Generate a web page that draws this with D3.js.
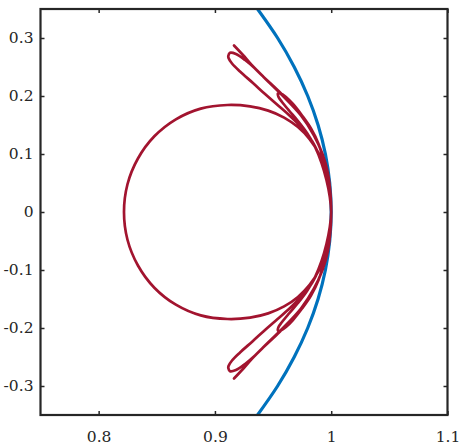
<!DOCTYPE html>
<html><head><meta charset="utf-8">
<script src="https://cdn.jsdelivr.net/npm/d3@7"></script>
<style>html,body{margin:0;padding:0;background:#fff;} svg{display:block;}</style>
</head><body>
<svg id="c" width="463" height="445"></svg>
<script>
// ---- tick data ----
const xTickValues = [0.8, 0.9, 1, 1.1];
const xTickLabels = ["0.8", "0.9", "1", "1.1"];
const yTickValues = [-0.3, -0.2, -0.1, 0, 0.1, 0.2, 0.3];
const yTickLabels = ["-0.3", "-0.2", "-0.1", "0", "0.1", "0.2", "0.3"];

// ---- blue boundary arc ----
const boundaryX = [0.9330,0.9539,0.9682,0.9798,0.9887,0.9950,0.9987,1.0000,0.9987,0.9950,0.9887,0.9798,0.9682,0.9539,0.9330];
const boundaryY = [0.36,0.30,0.25,0.20,0.15,0.10,0.05,0,-0.05,-0.10,-0.15,-0.20,-0.25,-0.30,-0.36];

// ---- red orbit, upper half pieces (lower half is the mirror image) ----
const contactX = 1.0, contactY = 0.0;
const endStrandX = [0.9164,0.9241,0.9316,0.9416,0.9560,0.9732,0.9846,0.9921,0.9968,0.9992];
const endStrandY = [0.2871,0.2707,0.2534,0.2333,0.2060,0.1690,0.1345,0.1017,0.0690,0.0345];
const bigUpperX = [0.9115,0.9130,0.9181,0.9259,0.9345,0.9431,0.9568,0.9740,0.9852,0.9925,0.9971,0.9993];
const bigUpperY = [0.2690,0.2745,0.2724,0.2621,0.2474,0.2302,0.2034,0.1664,0.1319,0.1000,0.0672,0.0328];
const bigLowerX = [0.9117,0.9147,0.9216,0.9327,0.9431,0.9534,0.9646,0.9749,0.9835,0.9899,0.9947,0.9978,0.9995];
const bigLowerY = [0.2655,0.2560,0.2422,0.2224,0.2034,0.1853,0.1655,0.1448,0.1224,0.0966,0.0690,0.0414,0.0155];
const smallUpperX = [0.9542,0.9568,0.9611,0.9671,0.9749,0.9826,0.9891,0.9938,0.9975,0.9995];
const smallUpperY = [0.2043,0.2041,0.1983,0.1862,0.1664,0.1440,0.1172,0.0862,0.0517,0.0207];
const smallLowerX = [0.9547,0.9577,0.9637,0.9714,0.9792,0.9861,0.9917,0.9959,0.9988];
const smallLowerY = [0.1983,0.1897,0.1750,0.1569,0.1362,0.1121,0.0845,0.0552,0.0259];
const ringTopX = [0.9996,0.9986,0.9951,0.9893,0.9814,0.9714,0.9595,0.9458,0.9302,0.9108,0.8878,0.8664,0.8479,0.8338,0.8248,0.8218];
const ringTopY = [0.0221,0.0402,0.0726,0.1010,0.1257,0.1464,0.1628,0.1748,0.1821,0.1845,0.1783,0.1598,0.1305,0.0922,0.0478,0.0];

// ---- layout ----
const L = 40.5, R = 447.5, T = 9, B = 415;
const x = d3.scaleLinear().domain([0.75, 1.1]).range([L, R]);
const y = d3.scaleLinear().domain([-0.35, 0.35]).range([B, T]);

const svg = d3.select("#c");
svg.append("defs").append("clipPath").attr("id","clip")
  .append("rect").attr("x",L).attr("y",T).attr("width",R-L).attr("height",B-T);

const zip = (xs, ys) => xs.map((v,i)=>[v, ys[i]]);
const mir = pts => pts.map(p=>[p[0], -p[1]]);
const rev = pts => pts.slice().reverse();

const C = [[contactX, contactY]];
const E = zip(endStrandX, endStrandY);
const BU = zip(bigUpperX, bigUpperY), BLo = zip(bigLowerX, bigLowerY);
const SU = zip(smallUpperX, smallUpperY), SLo = zip(smallLowerX, smallLowerY);
const RT = zip(ringTopX, ringTopY);

const orbit = [].concat(
  E, C,
  mir(rev(SU)), mir(SLo), C,
  rev(BLo), BU, C,
  mir(RT), rev(RT.slice(0, RT.length-1)), C,
  mir(rev(BU)), mir(BLo), C,
  rev(SLo), SU, C,
  mir(rev(E))
);
const boundary = zip(boundaryX, boundaryY);

const line = d3.line().x(d=>x(d[0])).y(d=>y(d[1])).curve(d3.curveCatmullRom.alpha(0.5));

const g = svg.append("g").attr("clip-path","url(#clip)");
g.append("path").attr("d", line(boundary)).attr("fill","none")
  .attr("stroke","#0072BD").attr("stroke-width",3.2).attr("stroke-linejoin","round");
g.append("path").attr("d", line(orbit)).attr("fill","none")
  .attr("stroke","#A2142F").attr("stroke-width",2.7).attr("stroke-linejoin","round").attr("stroke-linecap","round");

// ---- axes ----
const font = "'DejaVu Serif', serif";
const styleAxis = sel => {
  sel.select(".domain").remove();
  sel.selectAll(".tick line").attr("stroke","#262626").attr("stroke-width",1.5);
  sel.selectAll("text").attr("fill","#262626").style("font-family",font).style("font-size","15.5px");
};
svg.append("g").attr("transform",`translate(0,${B})`)
  .call(d3.axisBottom(x).tickValues(xTickValues).tickFormat((d,i)=>xTickLabels[i]).tickSize(-4).tickPadding(16))
  .call(styleAxis);
svg.append("g").attr("transform",`translate(0,${T})`)
  .call(d3.axisTop(x).tickValues(xTickValues).tickFormat("").tickSize(-4))
  .call(styleAxis);
svg.append("g").attr("transform",`translate(${L},0)`)
  .call(d3.axisLeft(y).tickValues(yTickValues).tickFormat((d,i)=>yTickLabels[i]).tickSize(-4).tickPadding(7))
  .call(styleAxis);
svg.append("g").attr("transform",`translate(${R},0)`)
  .call(d3.axisRight(y).tickValues(yTickValues).tickFormat("").tickSize(-4))
  .call(styleAxis);

svg.append("rect").attr("x",L).attr("y",T).attr("width",R-L).attr("height",B-T)
  .attr("fill","none").attr("stroke","#262626").attr("stroke-width",2.2);
</script>
</body></html>
